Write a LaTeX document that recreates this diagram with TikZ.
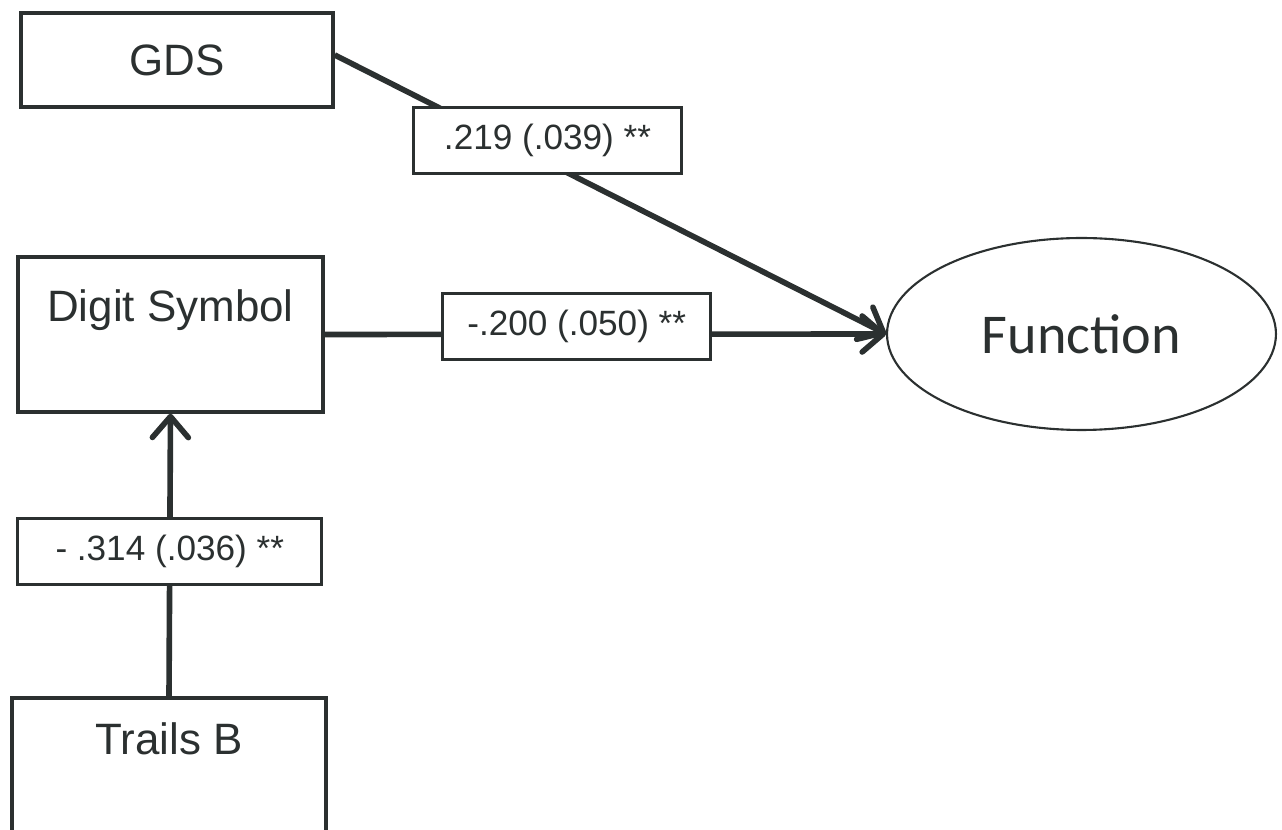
\documentclass[tikz,border=0pt]{standalone}
\usepackage{fontspec}
\setmainfont{Liberation Sans}
\newfontfamily\calfont{Carlito}
\usepackage{xcolor}
\usepackage{tikz}
\usetikzlibrary{arrows.meta}
\usetikzlibrary{calc}
\usetikzlibrary{positioning}
\usetikzlibrary{shapes.geometric}
\definecolor{ink}{RGB}{43,48,48}

\tikzset{
  varbox/.style={draw=ink, line width=2pt, inner sep=0pt, inner ysep=0.1cm, text=ink, font=\fontsize{25}{30}\selectfont},
  coefbox/.style={draw=ink, line width=1.6pt, fill=white, minimum width=5.36cm, minimum height=1.32cm, inner sep=0pt, text=ink, font=\fontsize{20}{24}\selectfont},
  latent/.style={ellipse, draw=ink, line width=1.2pt, minimum width=7.78cm, minimum height=3.84cm, inner sep=0pt, text=ink, font=\calfont\fontsize{32}{38}\selectfont},
  effect/.style={draw=ink, line width=3.2pt, -{Straight Barb[length=0.42cm, width=0.72cm, round]}}
}

\begin{document}
\begin{tikzpicture}[x=0.02cm, y=-0.02cm]
    \useasboundingbox (0,0) rectangle (1282,830);
    \node[varbox, minimum width=6.24cm, minimum height=1.88cm] (gds) at (177,60) {GDS};
    \node[varbox, minimum width=6.1cm, text height=1.2cm, text depth=1.7cm] (ds) at (170.5,334.5) {Digit Symbol};
    \node[varbox, minimum width=6.28cm, text height=1.02cm, text depth=1.88cm] (tb) at (169,775.5) {Trails B};
    \node[latent] (fn) at (1081.5,334) {Function};
    \draw[effect] ([yshift=0.1cm]gds.east) -- node[coefbox, pos=0.386, yshift=0.45cm] (c1) {.219 (.039) **} (fn.west);
    \draw[effect] (ds.east) -- node[coefbox, pos=0.449, yshift=0.15cm] (c2) {-.200 (.050) **} (fn.west);
    \draw[effect] (tb.north) -- node[coefbox, minimum width=6.08cm, pos=0.512] (c3) {- .314 (.036) **} (ds.south);
  \end{tikzpicture}
\end{document}
